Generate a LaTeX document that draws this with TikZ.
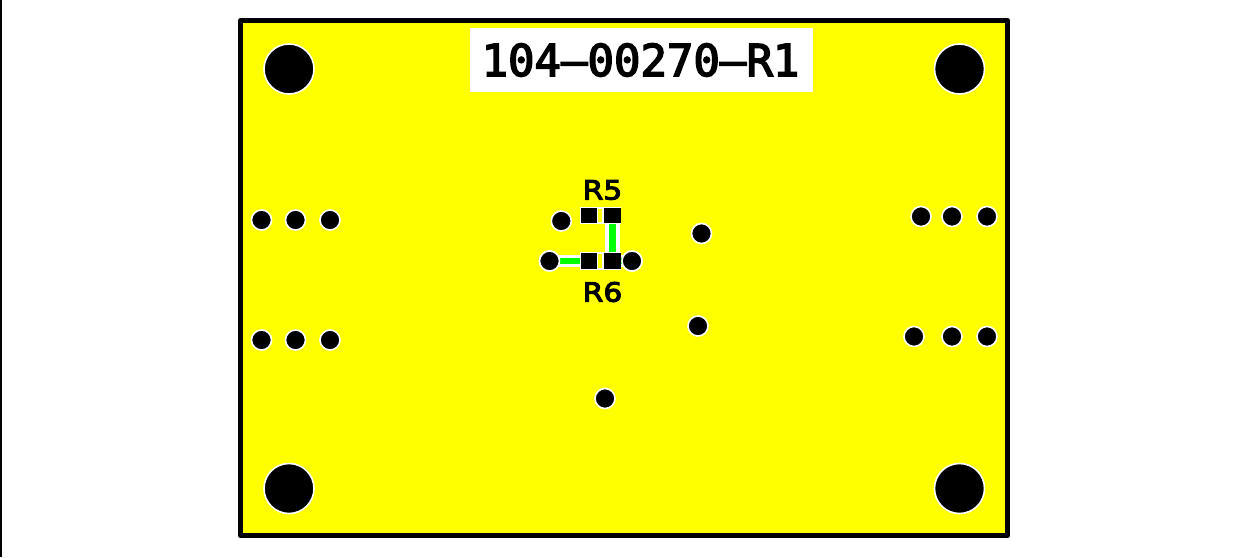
\documentclass[tikz,border=0pt]{standalone}
\usepackage{fontspec}
\newfontfamily\titlefont[FakeBold=3.5]{DejaVu Sans Mono}
\newfontfamily\reffont[FakeBold=4,FakeStretch=1.12]{DejaVu Sans}
\definecolor{pcbyellow}{RGB}{255,255,0}
\definecolor{pcbgreen}{RGB}{0,255,0}
\tikzset{
  x=1pt,y=-1pt,
  bighole/.style={circle,fill=black,draw=white,line width=1.6pt,minimum size=50pt,inner sep=0pt},
  smallhole/.style={circle,fill=black,draw=white,line width=1.6pt,minimum size=20pt,inner sep=0pt},
  padblock/.style={fill=black,draw=none,inner sep=0pt,rectangle,minimum height=15.4pt},
  lbl/.style={font=\reffont\fontsize{26.5}{27}\selectfont,text=black,inner sep=0pt},
}
\begin{document}
\begin{tikzpicture}
\useasboundingbox (0,0) rectangle (1247,557);
\fill[white] (0,0) rectangle (1247,557);
\fill[black] (0,0) rectangle (1.5,557);
\draw[line width=5.4pt,fill=pcbyellow,line join=round] (240.7,20.5) rectangle (1007.5,535.7);
\node[fill=white,minimum width=343pt,minimum height=64pt,inner sep=0pt] (plate) at (641.5,59.5) {};
\node[font=\titlefont\fontsize{44}{44}\selectfont,inner sep=0pt] (title) at (640.5,60) {104–00270–R1};
\foreach \n/\x/\y in {a/289/69,b/959.5/69,c/289/488.5,d/959.5/488.5}
  \node[bighole] (\n) at (\x,\y) {};
\foreach \n/\x/\y in {h1/261.5/220,h2/295.5/220,h3/330/220,h4/261.5/340,h5/295.5/340,h6/330/340,
  h7/921/216.5,h8/952/216.5,h9/987/216.5,h10/914/336.5,h11/952/336.5,h12/987/336.5,
  v1/561.3/221,v2/701.5/233.5,v3/698/326,v4/605/398.5,w1/549.5/261,w2/632/261}
  \node[smallhole] (\n) at (\x,\y) {};
\coordinate (r5t) at (612.7,215);
\coordinate (r6c) at (612.7,261);
\draw[white,line width=12.5pt] (w1.center) -- (w2.center);
\draw[white,line width=15pt] (r5t) -- (r6c);
\draw[pcbgreen,line width=6.5pt] (w1.center) -- (w2.center);
\draw[pcbgreen,line width=6.5pt] (r5t) -- (r6c);
\node[smallhole] at (w1) {};
\node[smallhole] at (w2) {};
\foreach \n/\y in {r5/215.2,r6/261}{
  \fill[white] (580,\y-8.7) rectangle (621,\y+8.7);
  \node[padblock,minimum width=16pt] (\n l) at (589,\y) {};
  \node[padblock,minimum width=17pt] (\n r) at (612,\y) {};
  \fill[white] (597,\y-7) rectangle (603.5,\y+7);
  \fill[pcbyellow] (598.2,\y-6.7) rectangle (602.3,\y+6.7);
}
\node[lbl] (t5) at (602.5,190) {R5};
\node[lbl] (t6) at (602.5,292) {R6};
\end{tikzpicture}
\end{document}
